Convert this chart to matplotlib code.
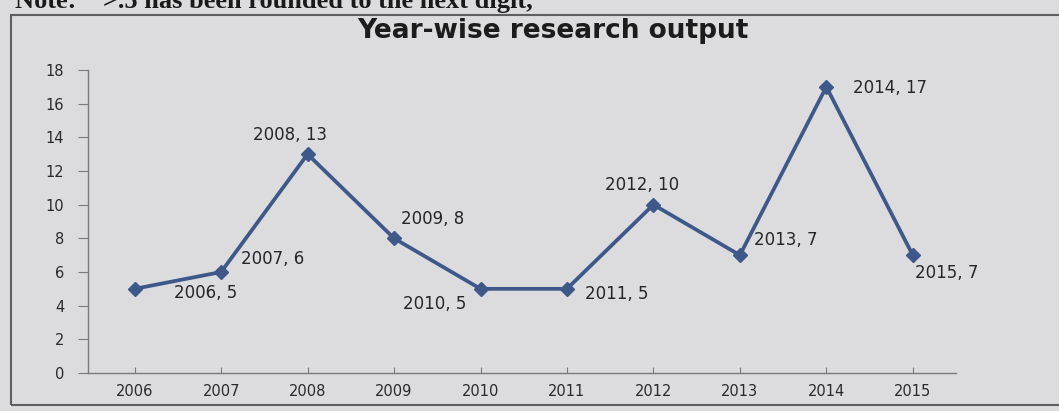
import matplotlib
matplotlib.use("Agg")
import matplotlib.pyplot as plt
from matplotlib.patches import Rectangle

# Publications per year
years = ["2006", "2007", "2008", "2009", "2010", "2011", "2012", "2013", "2014", "2015"]
papers = [5, 6, 13, 8, 5, 5, 10, 7, 17, 7]
y_ticks = [0, 2, 4, 6, 8, 10, 12, 14, 16, 18]

# label offsets (points) relative to each marker
label_offsets = [(28, -3), (14, 9), (-39, 14), (5, 14), (-56, -11),
                 (13, -4), (-35, 14), (10, 11), (19, -1), (1.5, -13)]

W, H = 1059, 411
fig = plt.figure(figsize=(W / 100, H / 100), dpi=100)
paper = "#dcdcde"
fig.patch.set_facecolor(paper)

# chart frame
fig.patches.append(Rectangle((11 / W, 6 / H), 1.2, (396 - 6) / H,
                             transform=fig.transFigure, fill=False,
                             edgecolor="#5e5e5e", linewidth=1.5))

# heading above the chart, running off the top edge
fig.text(15 / W, (H - 8) / H, "Note:    >.5 has been rounded to the next digit,",
         family="Liberation Serif", fontweight="bold", fontsize=19,
         color="#1a1a1a", va="baseline", ha="left")

ax = fig.add_axes([88 / W, 38 / H, (956 - 88) / W, (341 - 38) / H])
ax.set_facecolor("none")

x = list(range(len(years)))
ax.plot(x, papers, color="#3d5889", linewidth=2.7, marker="D",
        markersize=7, markerfacecolor="#3d5889", markeredgecolor="#3d5889",
        solid_joinstyle="miter")

for xi, yr, v, off in zip(x, years, papers, label_offsets):
    ax.annotate(f"{yr}, {v}", (xi, v), xytext=off, textcoords="offset points",
                ha="left", va="center", fontsize=12, color="#262626",
                family="DejaVu Sans")

ax.set_xlim(-0.54, 9.5)
ax.set_ylim(0, 18)
ax.set_xticks(x)
ax.set_xticklabels(years)
ax.set_yticks(y_ticks)

for side in ("top", "right"):
    ax.spines[side].set_visible(False)
for side in ("left", "bottom"):
    ax.spines[side].set_color("#7a7a7a")
    ax.spines[side].set_linewidth(1.0)

ax.tick_params(axis="y", direction="out", length=7, width=0.8, color="#7a7a7a",
               labelsize=10.5, labelcolor="#2a2a2a", pad=10)
ax.tick_params(axis="x", direction="in", length=4, width=0.8, color="#7a7a7a",
               labelsize=10.5, labelcolor="#2a2a2a", pad=8)

fig.text(553 / W, (H - 31) / H, "Year-wise research output", ha="center",
         va="center", fontsize=19, fontweight="bold", color="#1c1c1c",
         family="DejaVu Sans")

fig.savefig("out.png", dpi=100, facecolor=paper)
